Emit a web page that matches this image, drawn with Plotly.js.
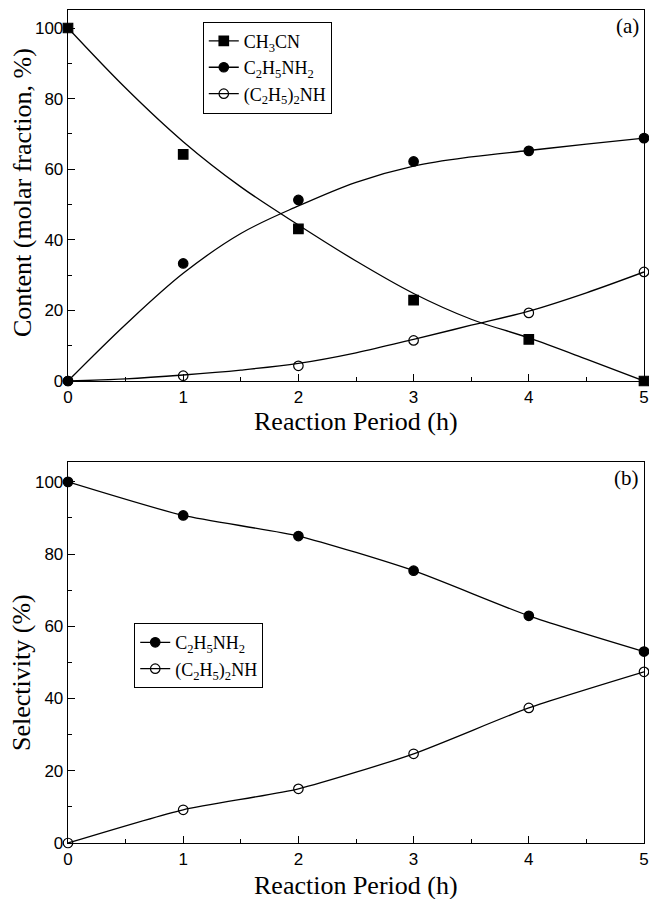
<!DOCTYPE html>
<html>
<head>
<meta charset="utf-8">
<script src="https://cdn.plot.ly/plotly-3.0.1.min.js"></script>
<style>html,body{margin:0;padding:0;background:#fff;}#chart{width:649px;height:899px;}</style>
</head>
<body>
<div id="chart"></div>
<script>
// ---- data ----
const hours = [0, 1, 2, 3, 4, 5];
// panel (a): measured points
const ch3cn = [100, 64.2, 43.1, 22.9, 11.8, 0];
const etNH2 = [0, 33.3, 51.3, 62.2, 65.2, 68.8];
const et2NH = [0, 1.5, 4.3, 11.5, 19.3, 30.9];
// panel (a): fitted curves as drawn in the figure
const fitHours = [0, 0.5, 1, 1.5, 2, 2.5, 3, 3.5, 4, 4.5, 5];
const ch3cnFit = [100, 83, 67.8, 55, 44.2, 34, 24.8, 17.5, 12.2, 6.2, 0];
const etNH2Fit = [0, 16, 30.5, 41.8, 49.6, 56.3, 60.9, 63.5, 65.3, 67.1, 68.8];
const et2NHFit = [0, 0.6, 1.7, 3.1, 5.0, 8.0, 11.8, 15.8, 19.8, 25, 30.9];
// panel (b): selectivity
const selNH2 = [100, 90.7, 85, 75.4, 62.9, 53];
const sel2NH = [0, 9.2, 15, 24.7, 37.4, 47.4];

const legendNames = ['CH<sub>3</sub>CN', 'C<sub>2</sub>H<sub>5</sub>NH<sub>2</sub>', '(C<sub>2</sub>H<sub>5</sub>)<sub>2</sub>NH'];
const xTitle = 'Reaction Period (h)';
const yTitleA = 'Content (molar fraction, %)';
const yTitleB = 'Selectivity (%)';

const SERIF = 'Liberation Serif';
const SANS = 'Liberation Sans';

const lineStyle = {color: '#000', width: 1.3};
const mk = (sym) => ({symbol: sym, size: 9.5, color: '#000', line: {color: '#000', width: 1.2}});
const spl = (s) => Object.assign({shape: 'spline', smoothing: s}, lineStyle);

const traces = [
  // panel (a) fitted curves
  {x: fitHours, y: ch3cnFit, mode: 'lines', line: spl(1), showlegend: false, xaxis: 'x', yaxis: 'y', hoverinfo: 'skip'},
  {x: fitHours, y: etNH2Fit, mode: 'lines', line: spl(1), showlegend: false, xaxis: 'x', yaxis: 'y', hoverinfo: 'skip'},
  {x: fitHours, y: et2NHFit, mode: 'lines', line: spl(1), showlegend: false, xaxis: 'x', yaxis: 'y', hoverinfo: 'skip'},
  // panel (a) measured points
  {x: hours, y: ch3cn, mode: 'markers', marker: mk('square'), cliponaxis: false, showlegend: false, xaxis: 'x', yaxis: 'y'},
  {x: hours, y: etNH2, mode: 'markers', marker: mk('circle'), cliponaxis: false, showlegend: false, xaxis: 'x', yaxis: 'y'},
  {x: hours, y: et2NH, mode: 'markers', marker: mk('circle-open'), cliponaxis: false, showlegend: false, xaxis: 'x', yaxis: 'y'},
  // panel (a) legend entries (line + symbol)
  {x: [null], y: [null], name: legendNames[0], mode: 'lines+markers', marker: mk('square'), line: lineStyle, xaxis: 'x', yaxis: 'y', legend: 'legend'},
  {x: [null], y: [null], name: legendNames[1], mode: 'lines+markers', marker: mk('circle'), line: lineStyle, xaxis: 'x', yaxis: 'y', legend: 'legend'},
  {x: [null], y: [null], name: legendNames[2], mode: 'lines+markers', marker: mk('circle-open'), line: lineStyle, xaxis: 'x', yaxis: 'y', legend: 'legend'},
  // panel (b)
  {x: hours, y: selNH2, name: legendNames[1], mode: 'lines+markers', marker: mk('circle'), line: spl(0.6), cliponaxis: false, xaxis: 'x2', yaxis: 'y2', legend: 'legend2'},
  {x: hours, y: sel2NH, name: legendNames[2], mode: 'lines+markers', marker: mk('circle-open'), line: spl(0.6), cliponaxis: false, xaxis: 'x2', yaxis: 'y2', legend: 'legend2'}
];

const tickFont = {family: SANS, size: 17, color: '#000'};
const titleFont = {family: SERIF, size: 26, color: '#000'};

function xAx(anchor) {
  return {
    anchor: anchor, range: [0, 5], dtick: 1, tick0: 0,
    ticks: 'inside', ticklen: 7, tickwidth: 1, tickcolor: '#000',
    minor: {dtick: 0.5, ticks: 'inside', ticklen: 4, tickcolor: '#000'},
    showline: true, linecolor: '#000', linewidth: 1.3, mirror: true,
    showgrid: false, zeroline: false, tickfont: tickFont
  };
}
function yAx(domain, range, anchor) {
  return {
    domain: domain, anchor: anchor, range: range, dtick: 20, tick0: 0,
    ticks: 'inside', ticklen: 7, tickwidth: 1, tickcolor: '#000',
    minor: {dtick: 10, ticks: 'inside', ticklen: 4, tickcolor: '#000'},
    showline: true, linecolor: '#000', linewidth: 1.3, mirror: true,
    showgrid: false, zeroline: false, tickfont: tickFont
  };
}

const legendBase = {
  bgcolor: '#fff', bordercolor: '#000', borderwidth: 1,
  font: {family: SERIF, size: 18, color: '#000'},
  xanchor: 'left', yanchor: 'top', tracegroupgap: 0, itemwidth: 30
};

const titleAnn = (text, x, y, angle) => ({
  text: text, xref: 'paper', yref: 'paper', x: x, y: y, xanchor: 'center', yanchor: 'middle',
  textangle: angle, showarrow: false, font: titleFont
});

const layout = {
  width: 649, height: 899,
  margin: {l: 68, r: 5, t: 10, b: 56},
  paper_bgcolor: '#fff', plot_bgcolor: '#fff',
  showlegend: true,
  xaxis: xAx('y'),
  yaxis: yAx([0.5546, 1], [0, 105.1], 'x'),
  xaxis2: xAx('y2'),
  yaxis2: yAx([0, 0.4574], [0, 105.5], 'x2'),
  legend: Object.assign({}, legendBase, {x: 0.234, y: 0.986}),
  legend2: Object.assign({}, legendBase, {x: 0.115, y: 0.264}),
  annotations: [
    titleAnn(xTitle, 0.5, 0.5066, 0),
    titleAnn(xTitle, 0.5, -0.0516, 0),
    titleAnn(yTitleA, -0.0799, 0.7815, -90),
    titleAnn(yTitleB, -0.0799, 0.2053, -90),
    {text: '(a)', xref: 'paper', yref: 'paper', x: 0.995, y: 0.998, xanchor: 'right', yanchor: 'top', showarrow: false, font: {family: SERIF, size: 21, color: '#000'}},
    {text: '(b)', xref: 'paper', yref: 'paper', x: 0.995, y: 0.455, xanchor: 'right', yanchor: 'top', showarrow: false, font: {family: SERIF, size: 21, color: '#000'}}
  ]
};

Plotly.newPlot('chart', traces, layout, {displayModeBar: false, staticPlot: true});
</script>
</body>
</html>
